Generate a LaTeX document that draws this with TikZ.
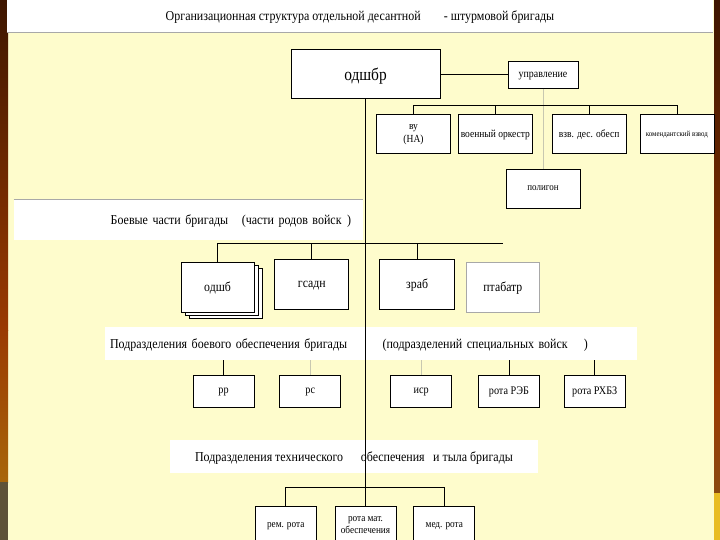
\documentclass[tikz,border=0pt]{standalone}
\usepackage{fontspec}
\setmainfont{Liberation Serif}[FakeStretch=0.88]
\usepackage{xcolor}
\usepackage{tikz}
\usetikzlibrary{positioning, shadows}

\definecolor{bgyellow}{HTML}{FEFCCC}
\definecolor{linegray}{HTML}{C8C8B0}
\definecolor{boxgray}{HTML}{A8A8A8}
\definecolor{barbrownA}{HTML}{3E1600}
\definecolor{barbrownB}{HTML}{9A3A02}
\definecolor{barbrownC}{HTML}{8A4A10}
\definecolor{barorange}{HTML}{A8660A}
\definecolor{bargray}{HTML}{5E5238}
\definecolor{baryellow}{HTML}{E8BC22}

\begin{document}
\begin{tikzpicture}[x=1pt, y=-1pt, line width=0.8pt, font=\fontsize{10.8}{13}\selectfont,
    unit/.style={draw, rectangle, fill=white, minimum width=74pt, minimum height=39pt, align=center, inner sep=1pt, text depth=0pt},
    sub/.style={unit, minimum width=61pt, minimum height=32pt, font=\fontsize{11.6}{13}\selectfont},
    rear/.style={sub, minimum height=39pt, font=\fontsize{10.5}{12}\selectfont},
    combat/.style={unit, minimum height=50pt, font=\fontsize{13.4}{15}\selectfont},
    band/.style={fill=white, minimum height=33pt, inner ysep=0pt, text depth=0pt, font=\fontsize{13.6}{15}\selectfont},
    faint/.style={draw=linegray}]

\useasboundingbox (0,0) rectangle (720,540);
% background and side bars
\fill[bgyellow] (0,0) rectangle (720,540);
\shade[top color=barbrownA, bottom color=barbrownB] (0,0) rectangle (8,330);
\shade[top color=barbrownB, bottom color=barorange] (0,330) rectangle (8,482);
\fill[bargray] (0,482) rectangle (8,540);
\shade[top color=barbrownA, bottom color=barbrownB] (714,0) rectangle (720,400);
\shade[top color=barbrownB, bottom color=barbrownC] (714,400) rectangle (720,493);
\fill[baryellow] (714,493) rectangle (720,540);

\node[fill=white, minimum width=706pt, minimum height=32pt, inner sep=0pt, text depth=0pt, font=\fontsize{13.6}{15}\selectfont] (title) at (360,16)
    {Организационная структура отдельной десантной\hspace{1.7em}- штурмовой бригады};
\draw[boxgray, line width=0.6pt] (title.south west) -- (title.south east);

% bands
\node[band, minimum height=40pt, text width=325pt, inner xsep=12pt, align=right] (band1) at (188.5,220)
    {Боевые части бригады\hspace{1em}(части родов войск\hspace{0.4em})};
\draw[boxgray, line width=0.6pt] (band1.north west) -- (band1.north east);
\node[band, text width=522pt, inner xsep=5pt, align=left] (band2) at (371,343.5)
    {Подразделения боевого обеспечения бригады\hspace{2.6em}(подразделений специальных войск\hspace{1.2em})};
\node[band, minimum width=368pt] (band3) at (354,456.5)
    {Подразделения технического\hspace{1.3em}обеспечения\hspace{0.4em} и тыла бригады};

% command
\node[unit, minimum width=149pt, minimum height=49pt, font=\fontsize{17.5}{19}\selectfont] (odshbr) at (365.5,74) {одшбр};
\node[unit, minimum width=70pt, minimum height=27pt, font=\fontsize{11.3}{12}\selectfont] (upr) at (543,75) {управление};
\node[unit] (vu) at (413.5,133.5) {ву\\(НА)};
\node[unit, right=7pt of vu] (orch) {военный оркестр};
\node[unit, right=19pt of orch] (vzv) {взв. дес. обесп};
\node[unit, right=13pt of vzv, font=\fontsize{7.8}{8}\selectfont] (kom) {комендантский взвод};
\node[unit, font=\fontsize{10.2}{11}\selectfont] (polygon) at (543,188.5) {полигон};

% combat units
\node[combat, minimum width=73pt, double copy shadow={shadow xshift=4pt, shadow yshift=-3pt}] (odshb) at (217.5,287) {одшб};
\node[combat, right=20pt of odshb, yshift=3pt] (gsadn) {гсадн};
\node[combat, minimum width=75pt, right=30pt of gsadn] (zrab) {зраб};
\node[combat, minimum width=73pt, draw=boxgray, right=11pt of zrab, yshift=-3pt] (ptab) {птабатр};

% combat support
\node[sub] (rr) at (223.5,391) {рр};
\node[sub, right=25pt of rr] (rs) {рс};
\node[sub, right=49pt of rs] (isr) {иср};
\node[sub, right=26pt of isr] (reb) {рота РЭБ};
\node[sub, right=24pt of reb] (rhbz) {рота РХБЗ};

% logistics
\node[rear] (mat) at (365.5,525.5) {рота мат.\\обеспечения};
\node[rear, left=18pt of mat] (rem) {рем. рота};
\node[rear, right=17pt of mat] (med) {мед. рота};

% links
\draw (odshbr.south) -- (mat.north);
\draw (odshbr.east) -- (odshbr.east -| upr.west);
\draw[faint] (upr.south) -- (polygon.north);
\draw (vu.north) -- ++(0,-8) coordinate (bar0) -| (kom.north);
\draw (orch.north) -- (orch.north |- bar0);
\draw (vzv.north) -- (vzv.north |- bar0);

\draw (odshb.north) -- ++(0,-18) coordinate (bar1) -- (bar1 -| ptab.north);
\draw (gsadn.north) -- (gsadn.north |- bar1);
\draw (zrab.north) -- (zrab.north |- bar1);

\draw (rr.north) -- (rr.north |- band2.south);
\draw[faint] (rs.north) -- (rs.north |- band2.south);
\draw[faint] (isr.north) -- (isr.north |- band2.south);
\draw (reb.north) -- (reb.north |- band2.south);
\draw (rhbz.north) -- (rhbz.north |- band2.south);

\draw (rem.north) -- ++(0,-18) coordinate (bar3) -| (med.north);
\end{tikzpicture}
\end{document}
